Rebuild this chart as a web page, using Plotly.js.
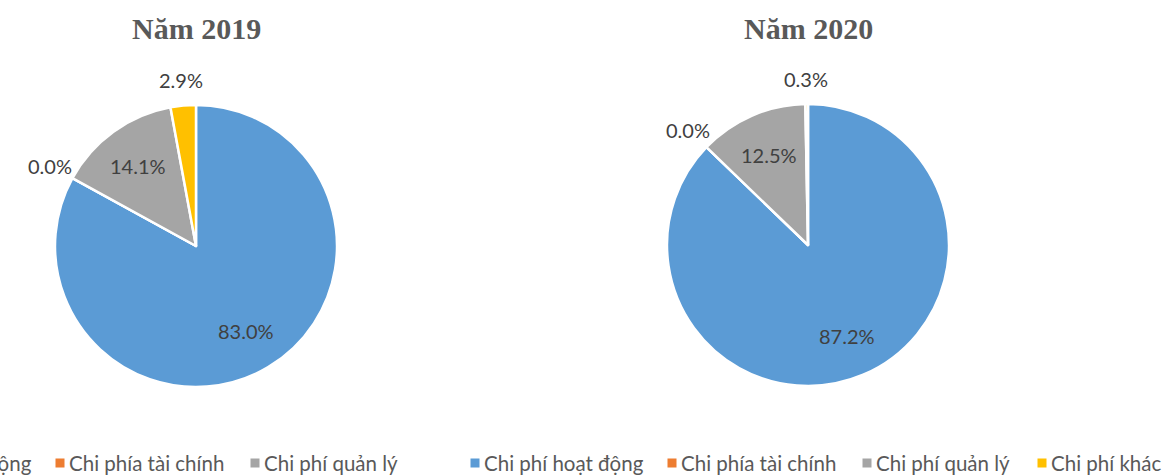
<!DOCTYPE html>
<html>
<head>
<meta charset="utf-8">
<script src="https://cdn.plot.ly/plotly-3.0.1.min.js"></script>
<style>html,body{margin:0;padding:0;background:#fff}#chart{width:1166px;height:475px}</style>
</head>
<body>
<div id="chart"></div>
<script>
// ---- data ----
const categories = ["Chi phí hoạt động", "Chi phía tài chính", "Chi phí quản lý", "Chi phí khác"];
const values2019 = [83.0, 0.0, 14.1, 2.9];
const values2020 = [87.2, 0.0, 12.5, 0.3];
const titles = ["Năm 2019", "Năm 2020"];
const sliceColors = ["#5B9BD5", "#ED7D31", "#A5A5A5", "#FFC000"];

// ---- layout helpers ----
const W = 1166, H = 475;
const px = x => x / W;
const py = y => 1 - y / H;

const pies = [
  { vals: values2019, cx: 196, cy: 246, r: 141, title: titles[0] },
  { vals: values2020, cx: 808, cy: 245, r: 141, title: titles[1] }
];

const labelFont = { family: "Lato, 'Open Sans', sans-serif", size: 20, color: "#404040" };

function pieDomain(p) {
  return { x: [px(p.cx - p.r), px(p.cx + p.r)], y: [py(p.cy + p.r), py(p.cy - p.r)] };
}

const data = pies.map(p => ({
  type: "pie",
  labels: categories,
  values: p.vals,
  sort: false,
  direction: "clockwise",
  rotation: 0,
  domain: pieDomain(p),
  marker: { colors: sliceColors, line: { color: "#ffffff", width: 2.5 } },
  textinfo: "none",
  hoverinfo: "label+percent",
  showlegend: false,
  automargin: false
}));

const annotations = [];

// titles
pies.forEach(p => {
  annotations.push({
    xref: "paper", yref: "paper", x: px(p.cx), y: py(28),
    xanchor: "center", yanchor: "middle", showarrow: false,
    text: "<b>" + p.title + "</b>",
    font: { family: "'Liberation Serif', 'Times New Roman', serif", size: 30, color: "#595959" }
  });
});

// data labels placed along each slice's bisector (derived from the values)
pies.forEach(p => {
  const total = p.vals.reduce((a, b) => a + b, 0);
  let cum = 0;
  p.vals.forEach(v => {
    const mid = (cum + v / 2) / total * 2 * Math.PI;
    cum += v;
    const inside = v / total >= 0.05;
    const k = inside ? 0.70 : 1.18;
    const x = p.cx + Math.sin(mid) * p.r * k;
    const y = p.cy - Math.cos(mid) * p.r * k;
    annotations.push({
      xref: "paper", yref: "paper", x: px(x), y: py(y),
      xanchor: "center", yanchor: "middle", showarrow: false,
      text: (v / total * 100).toFixed(1) + "%",
      font: labelFont
    });
  });
});

// legends (right one complete, left one cropped at the page edge)
const legendY = 463;
const rightSquares = [470, 667, 862, 1037];
const leftShift = -612;
function legendItem(i, sx) {
  annotations.push({
    xref: "paper", yref: "paper", x: px(sx), y: py(legendY),
    xanchor: "left", yanchor: "middle", showarrow: false,
    text: " ", width: 8, height: 8, borderpad: 0, bgcolor: sliceColors[i],
    font: { size: 1 }
  });
  annotations.push({
    xref: "paper", yref: "paper", x: px(sx + 12), y: py(legendY),
    xanchor: "left", yanchor: "middle", showarrow: false,
    text: categories[i],
    font: { family: "Lato, 'Open Sans', sans-serif", size: 20.5, color: "#595959" }
  });
}
for (let i = 0; i < 4; i++) legendItem(i, rightSquares[i]);
for (let i = 0; i < 3; i++) legendItem(i, rightSquares[i] + leftShift);

const layout = {
  width: W, height: H,
  margin: { l: 0, r: 0, t: 0, b: 0 },
  paper_bgcolor: "#ffffff",
  showlegend: false,
  annotations: annotations
};

Plotly.newPlot("chart", data, layout, { displayModeBar: false, staticPlot: true });
</script>
</body>
</html>
